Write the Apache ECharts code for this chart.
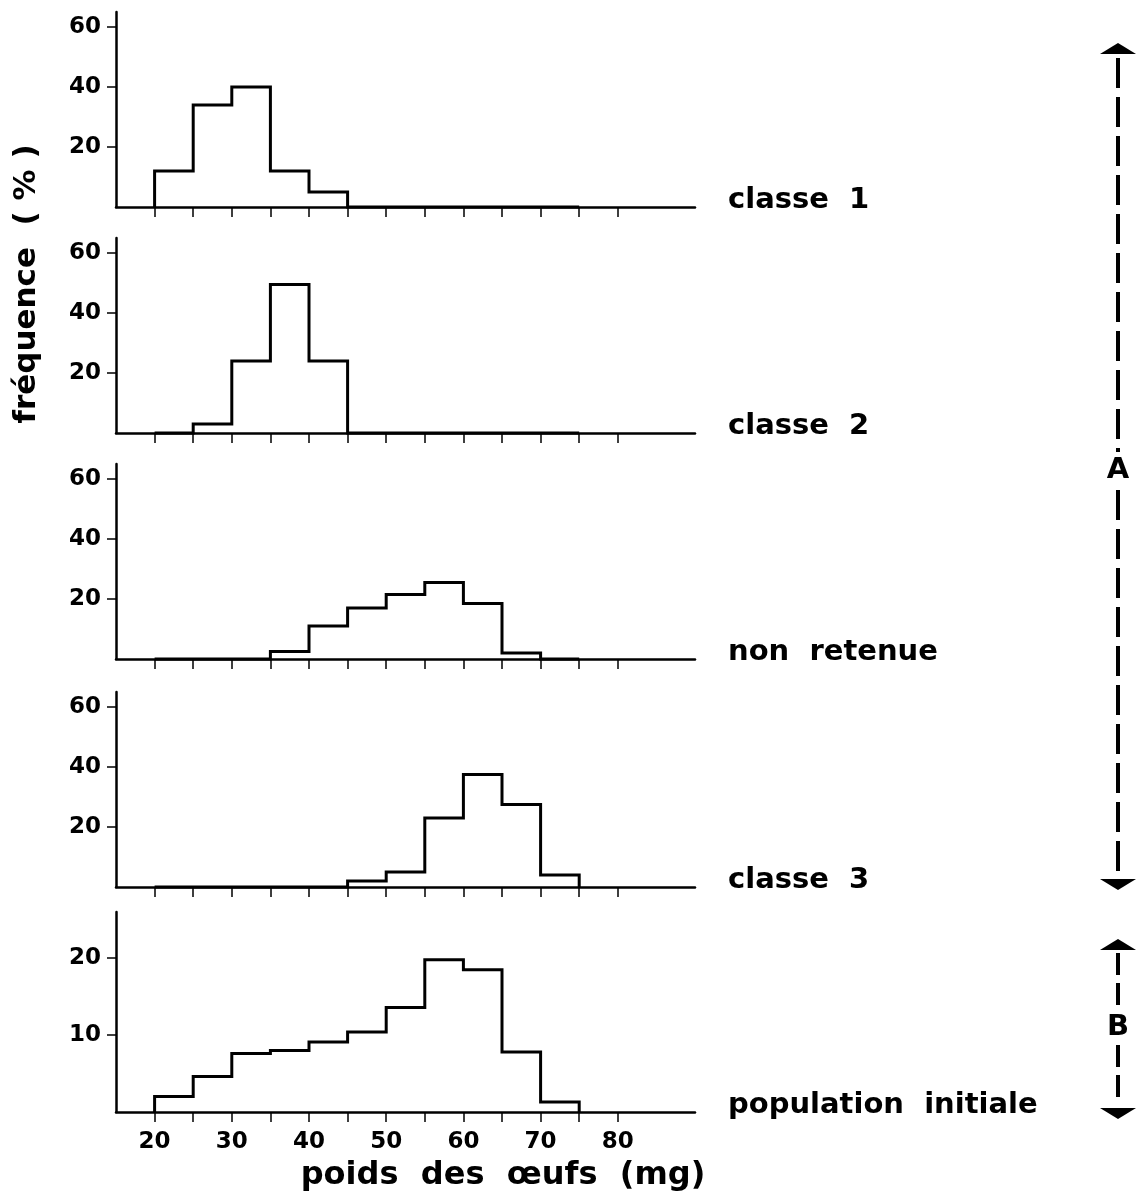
<!DOCTYPE html>
<html>
<head>
<meta charset="utf-8">
<script src="https://cdn.jsdelivr.net/npm/echarts@6.0.0/dist/echarts.min.js"></script>
<style>
  html, body { margin: 0; padding: 0; background: #fff; }
  #chart { width: 1144px; height: 1199px; }
</style>
</head>
<body>
<div id="chart"></div>
<script>
  // left edges of the 5 mg weight classes
  const binEdges = [20, 25, 30, 35, 40, 45, 50, 55, 60, 65, 70];
  const binWidth = 5;

  // frequencies (%), one value per class
  const classe1     = [12, 34, 40, 12, 5, 0, 0, 0, 0, 0, 0];
  const classe2     = [0, 3, 24, 49.5, 24, 0, 0, 0, 0, 0, 0];
  const nonRetenue  = [0, 0, 0, 2.5, 11, 17, 21.5, 25.5, 18.5, 2, 0];
  const classe3     = [0, 0, 0, 0, 0, 2, 5, 23, 37.5, 27.5, 4];
  const population  = [2, 4.6, 7.6, 8, 9.1, 10.4, 13.6, 19.8, 18.5, 7.8, 1.3];

  const panelNames = ['classe  1', 'classe  2', 'non  retenue', 'classe  3', 'population  initiale'];
  const panelData = [classe1, classe2, nonRetenue, classe3, population];

  const xTicks = [20, 25, 30, 35, 40, 45, 50, 55, 60, 65, 70, 75, 80];
  const xTickLabels = [20, 30, 40, 50, 60, 70, 80];
  const yTicksA = [20, 40, 60];
  const yTicksB = [10, 20];

  // layout
  const gridLeft = 116, gridWidth = 579;
  const panelTop = [12, 238, 464, 692, 912];
  const panelHeight = [195, 195, 195, 195, 200];
  const panelMax = [65, 65, 65, 65, 26];
  const FONT = '"DejaVu Sans", sans-serif';

  const chart = echarts.init(document.getElementById('chart'));

  // histogram outline: corners of every class, closed down to the baseline
  function outline(values) {
    const pts = [[binEdges[0], 0]];
    values.forEach(function (v, i) {
      pts.push([binEdges[i], v]);
      pts.push([binEdges[i] + binWidth, v]);
    });
    pts.push([binEdges[binEdges.length - 1] + binWidth, 0]);
    return pts;
  }

  const grids = [], xAxes = [], yAxes = [], series = [];
  panelData.forEach(function (vals, i) {
    const last = i === panelData.length - 1;
    grids.push({ left: gridLeft, width: gridWidth, top: panelTop[i], height: panelHeight[i] });
    xAxes.push({
      type: 'value', gridIndex: i, min: 15, max: 90, interval: 5,
      axisLine: { show: true, onZero: false, lineStyle: { color: '#000', width: 2.5 } },
      axisTick: { show: true, length: 10, customValues: xTicks, lineStyle: { color: '#000', width: 1.5 } },
      axisLabel: {
        show: last, customValues: xTickLabels, margin: 19,
        color: '#000', fontFamily: FONT, fontWeight: 'bold', fontSize: 23
      },
      splitLine: { show: false }
    });
    const yt = last ? yTicksB : yTicksA;
    yAxes.push({
      type: 'value', gridIndex: i, min: 0, max: panelMax[i], interval: last ? 10 : 20,
      axisLine: { show: true, lineStyle: { color: '#000', width: 2.5 } },
      axisTick: { show: true, length: 9, customValues: yt, lineStyle: { color: '#000', width: 1.5 } },
      axisLabel: {
        customValues: yt, margin: 15,
        color: '#000', fontFamily: FONT, fontWeight: 'bold', fontSize: 23
      },
      splitLine: { show: false }
    });
    series.push({
      type: 'line', xAxisIndex: i, yAxisIndex: i,
      data: outline(vals),
      showSymbol: false, clip: false, silent: true, animation: false,
      lineStyle: { color: '#000', width: 3, join: 'miter' }
    });
  });

  const graphic = [];
  panelNames.forEach(function (name, i) {
    graphic.push({
      type: 'text', x: 728, y: panelTop[i] + panelHeight[i] - 7,
      style: { text: name, fill: '#000', font: 'bold 29px ' + FONT, align: 'left', verticalAlign: 'middle' }
    });
  });
  graphic.push({
    type: 'text', x: 27, y: 284, rotation: Math.PI / 2,
    style: { text: 'fréquence  ( % )', fill: '#000', font: 'bold 31px ' + FONT, align: 'center', verticalAlign: 'middle' }
  });
  graphic.push({
    type: 'text', x: 503, y: 1176,
    style: { text: 'poids  des  œufs  (mg)', fill: '#000', font: 'bold 32px ' + FONT, align: 'center', verticalAlign: 'middle' }
  });

  // dashed range arrows A and B on the right
  const ax = 1118;
  const dash = { stroke: '#000', lineWidth: 4, lineDash: [30, 9] };
  function head(tipY, dir) {
    return {
      type: 'polygon',
      shape: { points: [[ax, tipY], [ax - 18, tipY + dir * 11], [ax + 18, tipY + dir * 11]] },
      style: { fill: '#000' }
    };
  }
  graphic.push(head(43, 1), head(890, -1));
  graphic.push({ type: 'line', shape: { x1: ax, y1: 58, x2: ax, y2: 452 }, style: dash });
  graphic.push({ type: 'line', shape: { x1: ax, y1: 490, x2: ax, y2: 876 }, style: dash });
  graphic.push({
    type: 'text', x: ax, y: 470,
    style: { text: 'A', fill: '#000', font: 'bold 29px ' + FONT, align: 'center', verticalAlign: 'middle' }
  });
  graphic.push(head(939, 1), head(1119, -1));
  graphic.push({ type: 'line', shape: { x1: ax, y1: 953, x2: ax, y2: 1010 }, style: { stroke: '#000', lineWidth: 4, lineDash: [22, 8] } });
  graphic.push({ type: 'line', shape: { x1: ax, y1: 1045, x2: ax, y2: 1105 }, style: { stroke: '#000', lineWidth: 4, lineDash: [22, 8] } });
  graphic.push({
    type: 'text', x: ax, y: 1027,
    style: { text: 'B', fill: '#000', font: 'bold 29px ' + FONT, align: 'center', verticalAlign: 'middle' }
  });

  chart.setOption({
    backgroundColor: '#fff',
    animation: false,
    grid: grids,
    xAxis: xAxes,
    yAxis: yAxes,
    series: series,
    graphic: graphic
  });
</script>
</body>
</html>
